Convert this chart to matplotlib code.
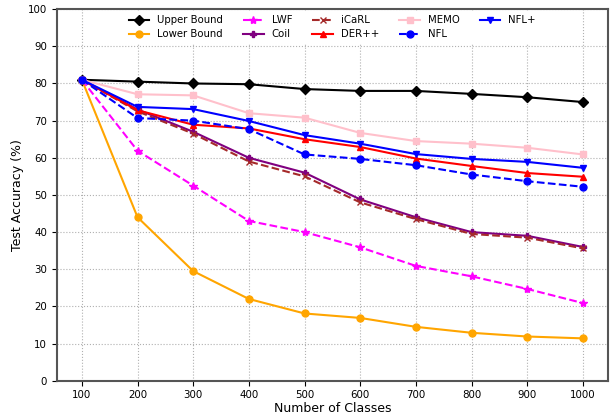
import matplotlib.pyplot as plt

classes = [100, 200, 300, 400, 500, 600, 700, 800, 900, 1000]

upper_bound = [81, 80.5, 80.0, 79.8, 78.5, 78.0, 78.0, 77.2, 76.3, 75.0]
lower_bound = [81, 44.0, 29.5, 22.0, 18.1, 16.9, 14.5, 12.9, 11.9, 11.4]
lwf = [81, 61.9, 52.5, 43.0, 40.0, 35.9, 30.9, 28.1, 24.7, 20.9]
coil = [81, 73.0, 67.0, 60.0, 56.0, 48.8, 44.0, 40.0, 39.0, 36.0]
icarl = [81, 72.5, 66.5, 59.0, 55.0, 48.0, 43.5, 39.5, 38.5, 35.6]
derpp = [81, 72.8, 68.9, 67.9, 65.0, 62.9, 59.8, 57.8, 55.9, 54.9]
memo = [81, 77.1, 76.8, 72.0, 70.8, 66.7, 64.5, 63.8, 62.7, 60.9]
nfl = [81, 70.7, 70.0, 67.7, 60.9, 59.7, 58.0, 55.5, 53.7, 52.2]
nfl_plus = [81, 73.7, 73.1, 69.9, 66.1, 63.8, 61.0, 59.7, 58.9, 57.3]

plt.rcParams["font.size"] = 7.4

fig, ax = plt.subplots(figsize=(6.11, 4.17), dpi=100)

ax.plot(classes, upper_bound, color="black", marker="D", markersize=5, label="Upper Bound")
ax.plot(classes, lower_bound, color="orange", marker="o", markersize=5, label="Lower Bound")
ax.plot(classes, lwf, color="magenta", marker="*", markersize=6, linestyle="--", label="LWF")
ax.plot(classes, coil, color="purple", marker="P", markersize=5, label="Coil")
ax.plot(classes, icarl, color="brown", marker="x", markersize=5, linestyle="--", label="iCaRL")
ax.plot(classes, derpp, color="red", marker="^", markersize=5, label="DER++")
ax.plot(classes, memo, color="pink", marker="s", markersize=5, label="MEMO")
ax.plot(classes, nfl, color="blue", marker="o", markersize=5, linestyle="--", label="NFL")
ax.plot(classes, nfl_plus, color="blue", marker="v", markersize=5, label="NFL+")

ax.set_xlabel("Number of Classes", fontsize=9, labelpad=1)
ax.set_ylabel("Test Accuracy (%)", fontsize=9, labelpad=3)
ax.set_xticks(classes)
ax.set_xlim(55, 1045)
ax.set_ylim(0, 100)
ax.set_yticks(range(0, 101, 10))
ax.grid(True, linestyle=":", color="#b0b0b0", linewidth=0.8)

for side in ["left", "bottom", "top", "right"]:
    ax.spines[side].set_color("#555555")
    ax.spines[side].set_linewidth(1.5)

leg = ax.legend(loc="upper center", ncol=5, frameon=True, fontsize=7.3,
                framealpha=1, edgecolor="white", borderaxespad=0.2,
                handlelength=2.0, handletextpad=0.8, columnspacing=2.0,
                labelspacing=0.4)

fig.subplots_adjust(left=0.093, right=0.995, top=0.978, bottom=0.087)
fig.savefig("out.png", dpi=100)
